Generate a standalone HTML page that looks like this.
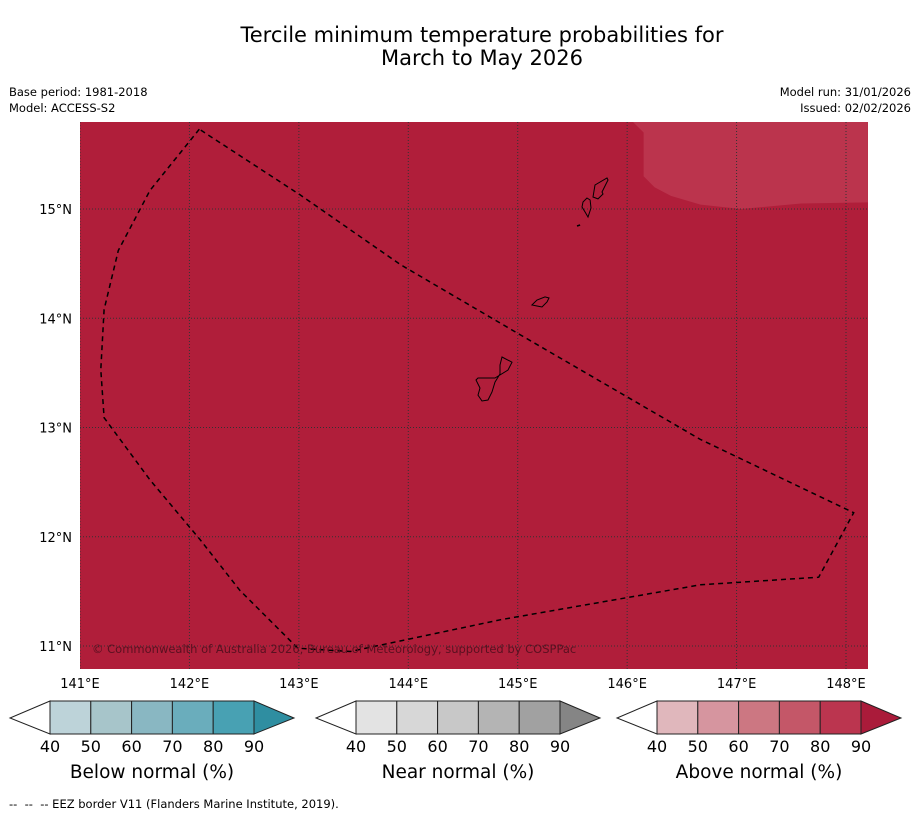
<!DOCTYPE html>
<html><head><meta charset="utf-8"><style>
body{margin:0;background:#fff;font-family:"DejaVu Sans","Liberation Sans",sans-serif;}
#wrap{position:relative;width:919px;height:816px;overflow:hidden;}
</style></head><body>
<div id="wrap">
<svg id="svg" width="919" height="816" xmlns="http://www.w3.org/2000/svg" font-family="DejaVu Sans, Liberation Sans, sans-serif">
<text x="482" y="42" text-anchor="middle" font-size="21">Tercile minimum temperature probabilities for</text>
<text x="482" y="65" text-anchor="middle" font-size="21">March to May 2026</text>
<text x="9" y="96" font-size="11.5">Base period: 1981-2018</text>
<text x="9" y="112" font-size="11.5">Model: ACCESS-S2</text>
<text x="911" y="96" font-size="11.5" text-anchor="end">Model run: 31/01/2026</text>
<text x="911" y="112" font-size="11.5" text-anchor="end">Issued: 02/02/2026</text>
<g id="map"></g>
<g id="cbars"></g>
<text x="9" y="808" font-size="11.5" style="white-space:pre" xml:space="preserve">--  --  -- EEZ border V11 (Flanders Marine Institute, 2019).</text>
</svg>
</div>
<script>
const lonTicks=[141,142,143,144,145,146,147,148];
const latTicks=[11,12,13,14,15];
const eezLon=[142.09,141.64,141.35,141.22,141.19,141.22,141.64,142.10,142.46,142.99,143.47,144.84,146.67,147.75,148.07,146.67,145.02,143.93,143.01];
const eezLat=[15.73,15.17,14.62,14.08,13.53,13.09,12.52,11.97,11.51,10.98,10.95,11.24,11.56,11.63,12.22,12.89,13.85,14.49,15.13];
const lightLon=[146.05,146.15,146.15,146.25,146.4,146.67,147.04,147.59,148.2,148.2];
const lightLat=[15.8,15.7,15.3,15.2,15.12,15.04,15.0,15.05,15.06,15.8];
const guamLon=[144.856,144.948,144.911,144.792,144.747,144.637,144.619,144.655,144.637,144.674,144.728,144.765,144.792,144.838,144.838];
const guamLat=[13.645,13.598,13.526,13.453,13.453,13.453,13.435,13.362,13.297,13.243,13.252,13.325,13.416,13.490,13.572];
const rotaLon=[145.130,145.176,145.249,145.286,145.268,145.222,145.176];
const rotaLat=[14.121,14.167,14.195,14.185,14.149,14.103,14.112];
const tinLon=[145.633,145.661,145.670,145.642,145.615,145.587,145.597];
const tinLat=[15.101,15.082,15.009,14.927,14.973,15.018,15.064];
const saipLon=[145.706,145.816,145.825,145.770,145.779,145.734,145.688];
const saipLat=[15.220,15.284,15.265,15.156,15.137,15.092,15.110];
const aguLon=[145.542,145.570];
const aguLat=[14.844,14.854];
const cbTicks=[40,50,60,70,80,90];
const cbNames=["Below normal (%)","Near normal (%)","Above normal (%)"];
const cbColors=[["#bdd3d9","#a7c5ca","#89b7c2","#6aadbc","#48a1b3","#2f8ea1"],["#e3e3e3","#d7d7d7","#c8c8c8","#b4b4b4","#a1a1a1","#858585"],["#e0b7bc","#d6959f","#cc7782","#c45768","#bb354f","#aa1b3a"]];

const NS="http://www.w3.org/2000/svg";
const X0=80,X1=868,Y0=122,Y1=669;
const xS=lon=>80+(lon-141)*109.43;
const yS=lat=>209-(lat-15)*109.25;
function mk(tag,attrs,parent){const e=document.createElementNS(NS,tag);for(const k in attrs)e.setAttribute(k,attrs[k]);parent.appendChild(e);return e;}
const map=document.getElementById('map');
let r=mk('rect',{x:X0,y:Y0,width:X1-X0,height:Y1-Y0,fill:'#b01e3a'},map);


const clip=mk('clipPath',{id:'mc'},map);mk('rect',{x:X0,y:Y0,width:X1-X0,height:Y1-Y0},clip);
const g=mk('g',{'clip-path':'url(#mc)'},map);
function pts(lo,la){return lo.map((v,i)=>xS(v).toFixed(1)+','+yS(la[i]).toFixed(1)).join(' ');}
let lp=mk('polygon',{points:pts(lightLon,lightLat),fill:'#bb344d'},g);


lonTicks.forEach(l=>{const x=xS(l);
 let ln=mk('line',{x1:x,y1:Y0,x2:x,y2:Y1,stroke:'#333','stroke-width':1,'stroke-dasharray':'1,2'},g);
 
 
 let t=mk('text',{x:x,y:688,'text-anchor':'middle','font-size':13},map);t.textContent=l+'°E';
 
 });
latTicks.forEach(l=>{const y=yS(l);
 let ln=mk('line',{x1:X0,y1:y,x2:X1,y2:y,stroke:'#333','stroke-width':1,'stroke-dasharray':'1,2'},g);
 
 
 let t=mk('text',{x:72,y:y+5,'text-anchor':'end','font-size':13},map);t.textContent=l+'°N';
 
 });
[[guamLon,guamLat,'guam'],[rotaLon,rotaLat,'rota'],[tinLon,tinLat,'tinian'],[saipLon,saipLat,'saipan']].forEach(([a,b,n])=>{
 let p=mk('polygon',{points:pts(a,b),fill:'none',stroke:'#000','stroke-width':1},g);
 
 });
let ag=mk('polyline',{points:pts(aguLon,aguLat),fill:'none',stroke:'#000','stroke-width':1.5},g);


let ez=mk('polygon',{points:pts(eezLon,eezLat),fill:'none',stroke:'#000','stroke-width':1.5,'stroke-dasharray':'5,4'},g);


let cp=mk('text',{x:92,y:653,'font-size':11.5,fill:'#5a1020'},g);cp.textContent='© Commonwealth of Australia 2026, Bureau of Meteorology, supported by COSPPac';



const cb=document.getElementById('cbars');
const starts=[50,356,657];const segW=40.8;const cy0=701,cy1=734,cm=718;
cbNames.forEach((nm,k)=>{const bx=starts[k];const cg=mk('g',{},cb);
 
 
 mk('polygon',{points:`${bx},${cy0} ${bx-40},${cm} ${bx},${cy1}`,fill:'#fff',stroke:'#222','stroke-width':1},cg);
 for(let i=0;i<5;i++){let s=mk('rect',{x:bx+i*segW,y:cy0,width:segW,height:cy1-cy0,fill:cbColors[k][i],stroke:'#222','stroke-width':1},cg);
  
  }
 const ex=bx+5*segW;
 mk('polygon',{points:`${ex},${cy0} ${ex+40},${cm} ${ex},${cy1}`,fill:cbColors[k][5],stroke:'#222','stroke-width':1},cg);
 cbTicks.forEach((t,i)=>{let tx=mk('text',{x:bx+i*segW,y:752,'text-anchor':'middle','font-size':16},cg);tx.textContent=t;
  
  });
 let lb=mk('text',{x:bx+2.5*segW,y:778,'text-anchor':'middle','font-size':18.5},cg);lb.textContent=nm;
 
 
});
</script>
</body></html>
